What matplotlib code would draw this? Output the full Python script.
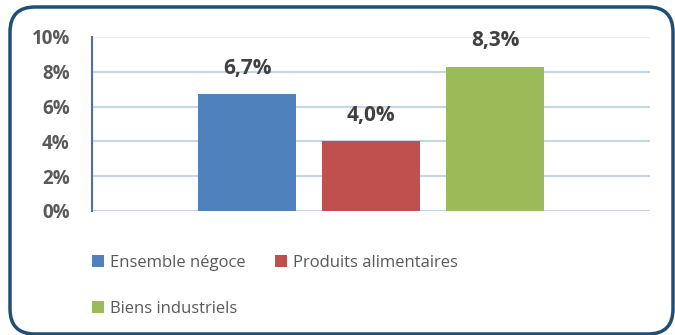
import numpy as np
import matplotlib.pyplot as plt
from matplotlib.patches import FancyBboxPatch

series = ['Ensemble négoce', 'Produits alimentaires', 'Biens industriels']
values = [6.7, 4.0, 8.3]
labels = ['6,7%', '4,0%', '8,3%']
colors = ['#4F81BD', '#C0504D', '#9BBB59']
yticks = [0, 2, 4, 6, 8, 10]

plt.rcParams['font.family'] = ['Open Sans', 'DejaVu Sans']

W, H = 675, 335
fig = plt.figure(figsize=(W / 100, H / 100), dpi=100)

# rounded frame around everything
frame = FancyBboxPatch((10 / W, 1 / H), 663 / W, 327 / H,
                       boxstyle='round,pad=0,rounding_size=0.037',
                       transform=fig.transFigure, fill=False,
                       edgecolor='#1F4E79', linewidth=2.5,
                       mutation_aspect=W / H)
fig.patches.append(frame)

ax = fig.add_axes([92 / W, (H - 211) / H, (650 - 92) / W, (211 - 37) / H])

bw = 98 / 558
pos = np.array([-1, 0, 1]) * (124 / 558)
handles = []
for p, v, c, s, lab in zip(pos, values, colors, series, labels):
    handles.append(ax.bar(p, v, width=bw, color=c, label=s, zorder=3))
    ax.text(p, v + 1.2, lab, ha='center', va='baseline', fontsize=15,
            fontweight='bold', color='#404040')

ax.set_xlim(-0.5, 0.5)
ax.set_ylim(0, 10)
ax.set_yticks(yticks)
ax.set_yticklabels([f'{t}%' for t in yticks], fontsize=13.5, fontweight='bold',
                   color='#595959')
ax.set_xticks([])
ax.tick_params(axis='y', length=0, pad=16)
for t in yticks:
    ax.axhline(t, color='#EAF0F7' if t == 10 else '#C5D5E8', lw=1.5, zorder=1)
for sp in ['top', 'right', 'bottom']:
    ax.spines[sp].set_visible(False)
ax.spines['left'].set_color('#4F6FA0')
ax.spines['left'].set_linewidth(1.5)

# column-major fill: first column gets items 1 and 3
order = [0, 2, 1]
leg = fig.legend([handles[i] for i in order], [series[i] for i in order],
                 loc='upper left', bbox_to_anchor=(77 / W, (H - 240) / H),
                 ncol=2, frameon=False, fontsize=12, handlelength=0.72,
                 handleheight=0.72, handletextpad=0.35, columnspacing=1.8,
                 labelspacing=1.8)
for t in leg.get_texts():
    t.set_color('#595959')

fig.savefig('out.png', dpi=100)
